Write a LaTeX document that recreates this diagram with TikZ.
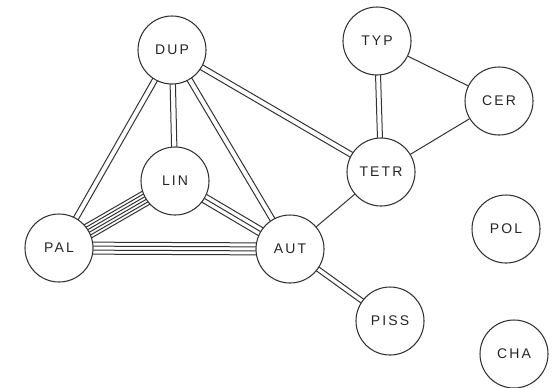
\documentclass[tikz,border=0pt]{standalone}
\usepackage{fontspec}
\setmainfont{Liberation Sans}[LetterSpace=15]
\usetikzlibrary{calc,backgrounds}

% n parallel strokes between two node centres, spaced #4 pt apart
\newcommand\bundle[4]{%
  \foreach \k in {1,...,#3}{%
    \pgfmathsetmacro\off{(\k-(#3+1)/2)*#4}%
    \draw[link] ($(#1)!\off pt!90:(#2)$) -- ($(#2)!\off pt!-90:(#1)$);
  }}

\begin{document}
\begin{tikzpicture}[x=0.75pt,y=-0.75pt,
  link/.style={line width=0.75pt, draw=black!80},
  taxon/.style={circle, draw=black!80, fill=white, line width=0.8pt,
    minimum size=51pt, inner sep=0pt, font=\fontsize{10.5}{12}\selectfont, text=black!85}]
\useasboundingbox (0,0) rectangle (552,387);

\node[taxon] (DUP)  at (172,50)  {DUP};
\node[taxon] (TYP)  at (377,41)  {TYP};
\node[taxon] (CER)  at (499,101) {CER};
\node[taxon] (TETR) at (381,172) {TETR};
\node[taxon] (LIN)  at (175,181) {LIN};
\node[taxon] (PAL)  at (59,248)  {PAL};
\node[taxon] (AUT)  at (290,249) {AUT};
\node[taxon] (POL)  at (506,229) {POL};
\node[taxon] (PISS) at (390,321) {PISS};
\node[taxon] (CHA)  at (514,354) {CHA};

\begin{scope}[on background layer]
  \bundle{DUP}{PAL}{2}{4}
  \bundle{DUP}{LIN}{2}{4}
  \bundle{DUP}{AUT}{2}{4}
  \bundle{DUP}{TETR}{2}{4}
  \bundle{TYP}{TETR}{2}{3.75}
  \bundle{AUT}{PISS}{2}{3.5}
  \bundle{PAL}{LIN}{6}{2.25}
  \bundle{PAL}{AUT}{4}{3}
  \bundle{LIN}{AUT}{3}{3.4}
  \draw[link] (TYP) -- (CER);
  \draw[link] (CER) -- (TETR);
  \draw[link] (TETR) -- (AUT);
\end{scope}
\end{tikzpicture}
\end{document}
